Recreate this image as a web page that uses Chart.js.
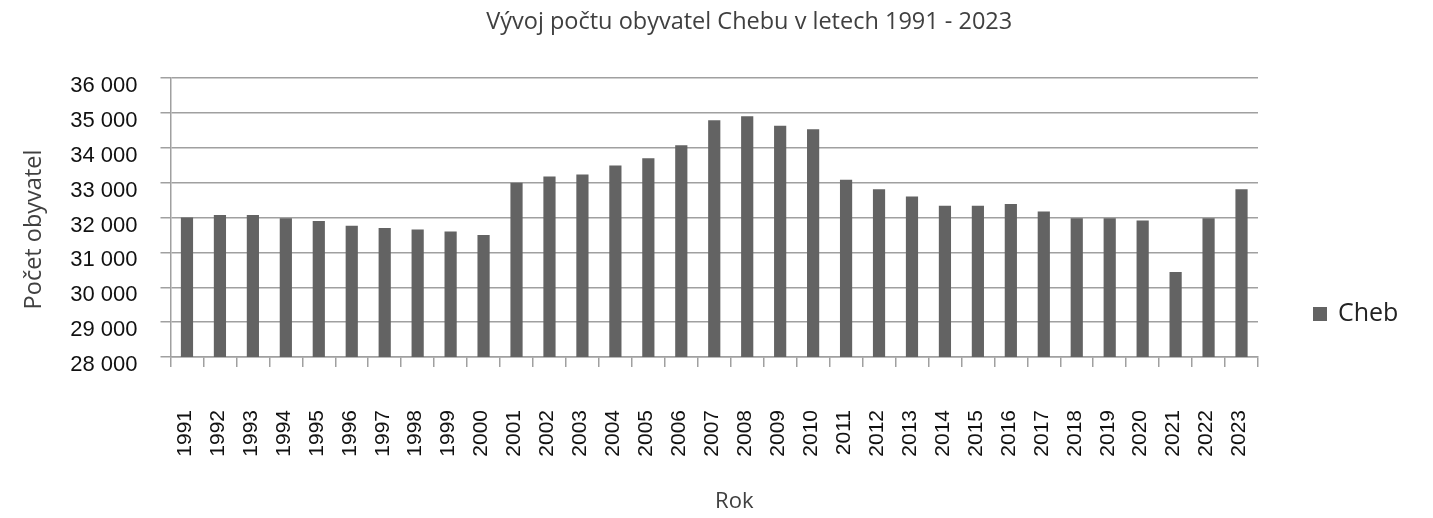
<!DOCTYPE html>
<html><head><meta charset="utf-8">
<script src="https://cdn.jsdelivr.net/npm/chart.js@4"></script>
<style>html,body{margin:0;padding:0;background:#fff}#wrap{width:1433px;height:518px;position:relative}</style>
</head><body><div id="wrap"><canvas id="c"></canvas></div>
<script>
const years = ['1991','1992','1993','1994','1995','1996','1997','1998','1999','2000','2001','2002','2003','2004','2005','2006','2007','2008','2009','2010','2011','2012','2013','2014','2015','2016','2017','2018','2019','2020','2021','2022','2023'];
const population = [32000,32075,32075,31980,31900,31760,31700,31655,31600,31500,33000,33175,33230,33490,33700,34070,34790,34900,34630,34530,33080,32810,32600,32335,32335,32385,32175,31980,31980,31915,30440,31980,32810];
const yMin = 28000, yMax = 36000, yStep = 1000;
const chartTitle = 'Vývoj počtu obyvatel Chebu v letech 1991 - 2023';
const yTitle = 'Počet obyvatel';
const xTitle = 'Rok';
const seriesName = 'Cheb';
const barColor = '#636363';
const gridColor = '#a0a0a0';

const textPlugin = {
  id: 'texts',
  afterDraw(chart) {
    const ctx = chart.ctx, a = chart.chartArea;
    ctx.save();
    ctx.fillStyle = '#404040';
    ctx.textAlign = 'center';
    ctx.textBaseline = 'middle';
    ctx.font = '23.5px "Open Sans"';
    ctx.fillText(chartTitle, (a.left + a.right) / 2 + 35, 22);
    ctx.font = '22px "Open Sans"';
    ctx.fillText(xTitle, (a.left + a.right) / 2 + 20, 502);
    ctx.save();
    ctx.font = '23.5px "Open Sans"';
    ctx.translate(34, (a.top + a.bottom) / 2 + 12);
    ctx.rotate(-Math.PI / 2);
    ctx.fillText(yTitle, 0, 0);
    ctx.restore();
    // legend
    ctx.fillStyle = barColor;
    ctx.fillRect(a.right + 55, 307, 14, 14);
    ctx.fillStyle = '#222';
    ctx.textAlign = 'left';
    ctx.font = '25px "Open Sans"';
    ctx.fillText(chart.data.datasets[0].label, a.right + 80, 314);
    ctx.restore();
  }
};

new Chart(document.getElementById('c'), {
  type: 'bar',
  data: {
    labels: years,
    datasets: [{
      label: seriesName,
      data: population,
      backgroundColor: barColor,
      borderWidth: 0,
      categoryPercentage: 0.37,
      barPercentage: 1.0
    }]
  },
  options: {
    responsive: true,
    maintainAspectRatio: false,
    animation: false,
    devicePixelRatio: 1,
    layout: { padding: { top: 78, right: 175, left: 0, bottom: 0 } },
    plugins: {
      legend: { display: false },
      title: { display: false },
      tooltip: { enabled: false }
    },
    scales: {
      x: {
        offset: true,
        grid: { offset: true, drawOnChartArea: false, drawTicks: true, tickLength: 10, color: gridColor, lineWidth: 1.5 },
        border: { display: true, color: gridColor, width: 1.5 },
        ticks: {
          minRotation: 90, maxRotation: 90, autoSkip: false,
          padding: 43,
          labelOffset: -2,
          color: '#111',
          font: { family: '"Liberation Sans", Arial, sans-serif', size: 21 }
        },
        afterFit(s) { s.height = 161; }
      },
      y: {
        min: yMin, max: yMax,
        grid: { color: gridColor, lineWidth: 1.5, tickLength: 10 },
        border: { display: true, color: gridColor, width: 1.5 },
        ticks: {
          stepSize: yStep,
          padding: 23,
          labelOffset: 8,
          color: '#111',
          font: { family: '"Liberation Sans", Arial, sans-serif', size: 22 },
          callback: v => String(v).replace(/\B(?=(\d{3})+(?!\d))/g, ' ')
        },
        afterFit(s) { s.width = 170.5; }
      }
    }
  },
  plugins: [textPlugin]
});
</script></body></html>
